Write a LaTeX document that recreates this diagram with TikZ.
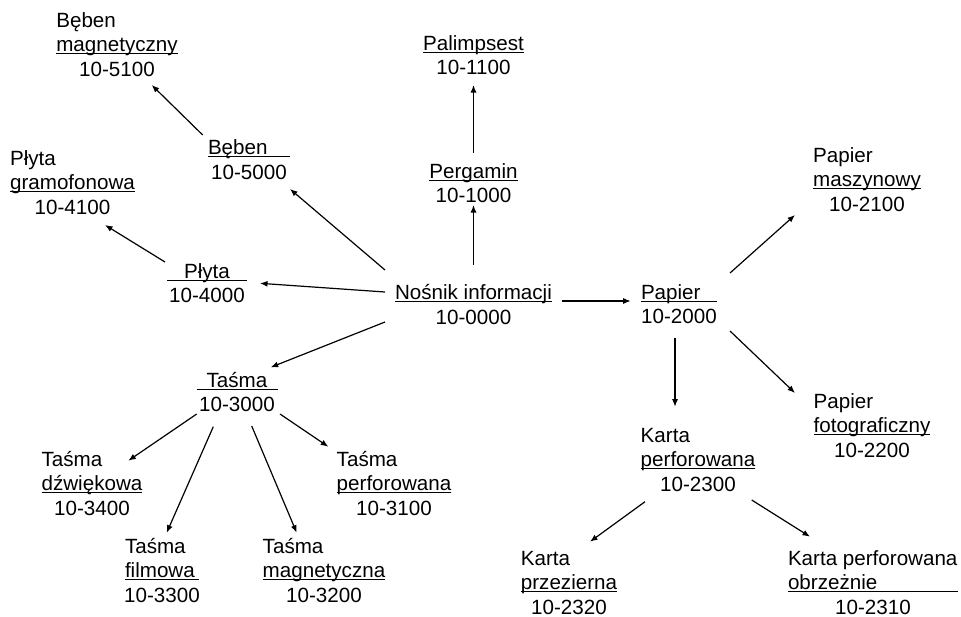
\documentclass[tikz,border=0pt]{standalone}
\usepackage{fontspec}
\setmainfont{Liberation Sans}
\usetikzlibrary{arrows.meta}

% underline that sits just under the baseline (crossing descenders)
\newsavebox\ulsave
\newcommand{\ul}[1]{\sbox\ulsave{#1}\rlap{\rule[-2.7pt]{\wd\ulsave}{1.3pt}}\usebox\ulsave}
% underline of a fixed length, text placed l/c/r inside it
\newcommand{\ulbox}[3][c]{\rlap{\rule[-2.7pt]{#2}{1.3pt}}\makebox[#2][#1]{#3}}

\begin{document}
\begin{tikzpicture}[x=1pt,y=-1pt,
  % labels are placed by the baseline of their last line
  lbl/.style={anchor=base, align=center, inner sep=0pt,
              font=\fontsize{20.6}{24.3}\selectfont},
  arr/.style={-{Latex[length=7.5pt,width=6pt]}, line width=1.2pt}]
\fill[white] (0,0) rectangle (961,616);
\useasboundingbox (0,0) rectangle (961,616);

% root
\node[lbl] (nos) at (473.5,324) {\ul{Nośnik informacji}\\ 10-0000};

% upper branch
\node[lbl] (perg)  at (473.5,202.5) {\ul{Pergamin}\\ 10-1000};
\node[lbl] (palim) at (473.5,74.5)  {\ul{Palimpsest}\\ 10-1100};

% left branches
\node[lbl] (beben) at (249,179)   {\ulbox[l]{82pt}{Bęben}\\ 10-5000};
\node[lbl] (bmag)  at (117,76)    {\rlap{Bęben}\phantom{magnetyczny}\\ \ul{magnetyczny}\\ 10-5100};
\node[lbl] (plyta) at (207,302.5) {\ulbox{80pt}{Płyta}\\ 10-4000};
\node[lbl] (pgram) at (72.5,214)  {\rlap{Płyta}\phantom{gramofonowa}\\ \ul{gramofonowa}\\ 10-4100};

% tapes
\node[lbl] (tasma) at (237,411.5) {\ulbox{81pt}{Taśma}\\ 10-3000};
\node[lbl] (tdzw)  at (92,515)    {\rlap{Taśma}\phantom{dźwiękowa}\\ \ul{dźwiękowa}\\ 10-3400};
\node[lbl] (tperf) at (394,515)   {\rlap{Taśma}\phantom{perforowana}\\ \ul{perforowana}\\ 10-3100};
\node[lbl] (tfilm) at (162,602)   {\makebox[74pt][l]{Taśma}\\ \ulbox[l]{74pt}{filmowa}\\ 10-3300};
\node[lbl] (tmag)  at (324,602)   {\rlap{Taśma}\phantom{magnetyczna}\\ \ul{magnetyczna}\\ 10-3200};

% paper
\node[lbl] (papier) at (679,323.5) {\ulbox[l]{76pt}{Papier}\\ 10-2000};
\node[lbl] (pmasz)  at (867,211)   {\rlap{Papier}\phantom{maszynowy}\\ \ul{maszynowy}\\ 10-2100};
\node[lbl] (pfoto)  at (872,457)   {\rlap{Papier}\phantom{fotograficzny}\\ \ul{fotograficzny}\\ 10-2200};
\node[lbl] (karta)  at (698,491)   {\rlap{Karta}\phantom{perforowana}\\ \ul{perforowana}\\ 10-2300};
\node[lbl] (przez)  at (569,614)   {\rlap{Karta}\phantom{przezierna}\\ \ul{przezierna}\\ 10-2320};
\node[lbl] (obrz)   at (873,614)   {\makebox[170pt][l]{Karta perforowana}\\ \ulbox[l]{170pt}{obrzeżnie}\\ 10-2310};

% connectors
\draw[arr] ([shift={(0,-59)}]nos.base)       -- ([shift={(0,2.5)}]perg.base);
\draw[arr] ([shift={(0,-49.5)}]perg.base)    -- ([shift={(0,10.5)}]palim.base);
\draw[arr] ([shift={(-88.5,-54)}]nos.base)   -- ([shift={(41,10)}]beben.base);
\draw[arr] ([shift={(-46.3,-44)}]beben.base) -- ([shift={(34.7,9)}]bmag.base);
\draw[arr] ([shift={(-88.5,-32)}]nos.base)   -- ([shift={(53,-19.2)}]plyta.base);
\draw[arr] ([shift={(-42,-40.5)}]plyta.base) -- ([shift={(32.5,11)}]pgram.base);
\draw[arr] ([shift={(-88.5,-2)}]nos.base)    -- ([shift={(33.7,-44.2)}]tasma.base);
\draw[arr] ([shift={(-40.3,2.5)}]tasma.base) -- ([shift={(36.3,-54.3)}]tdzw.base);
\draw[arr] ([shift={(-23.7,15.2)}]tasma.base) -- ([shift={(4.7,-69.3)}]tfilm.base);
\draw[arr] ([shift={(14.7,14.5)}]tasma.base) -- ([shift={(-27.3,-69.3)}]tmag.base);
\draw[arr] ([shift={(43,2.5)}]tasma.base)    -- ([shift={(-65.7,-68.3)}]tperf.base);
\draw[arr] ([shift={(88.2,-23)}]nos.base)    -- ([shift={(-48.3,-22.5)}]papier.base);
\draw[arr] ([shift={(51,-50.5)}]papier.base) -- ([shift={(-72,4)}]pmasz.base);
\draw[arr] ([shift={(-4,14.5)}]papier.base)  -- ([shift={(-23,-84.3)}]karta.base);
\draw[arr] ([shift={(51,7.5)}]papier.base)   -- ([shift={(-77,-64)}]pfoto.base);
\draw[arr] ([shift={(-53,10.7)}]karta.base)  -- ([shift={(21,-72.3)}]przez.base);
\draw[arr] ([shift={(53.7,9)}]karta.base)    -- ([shift={(-63,-77.3)}]obrz.base);
\end{tikzpicture}
\end{document}
